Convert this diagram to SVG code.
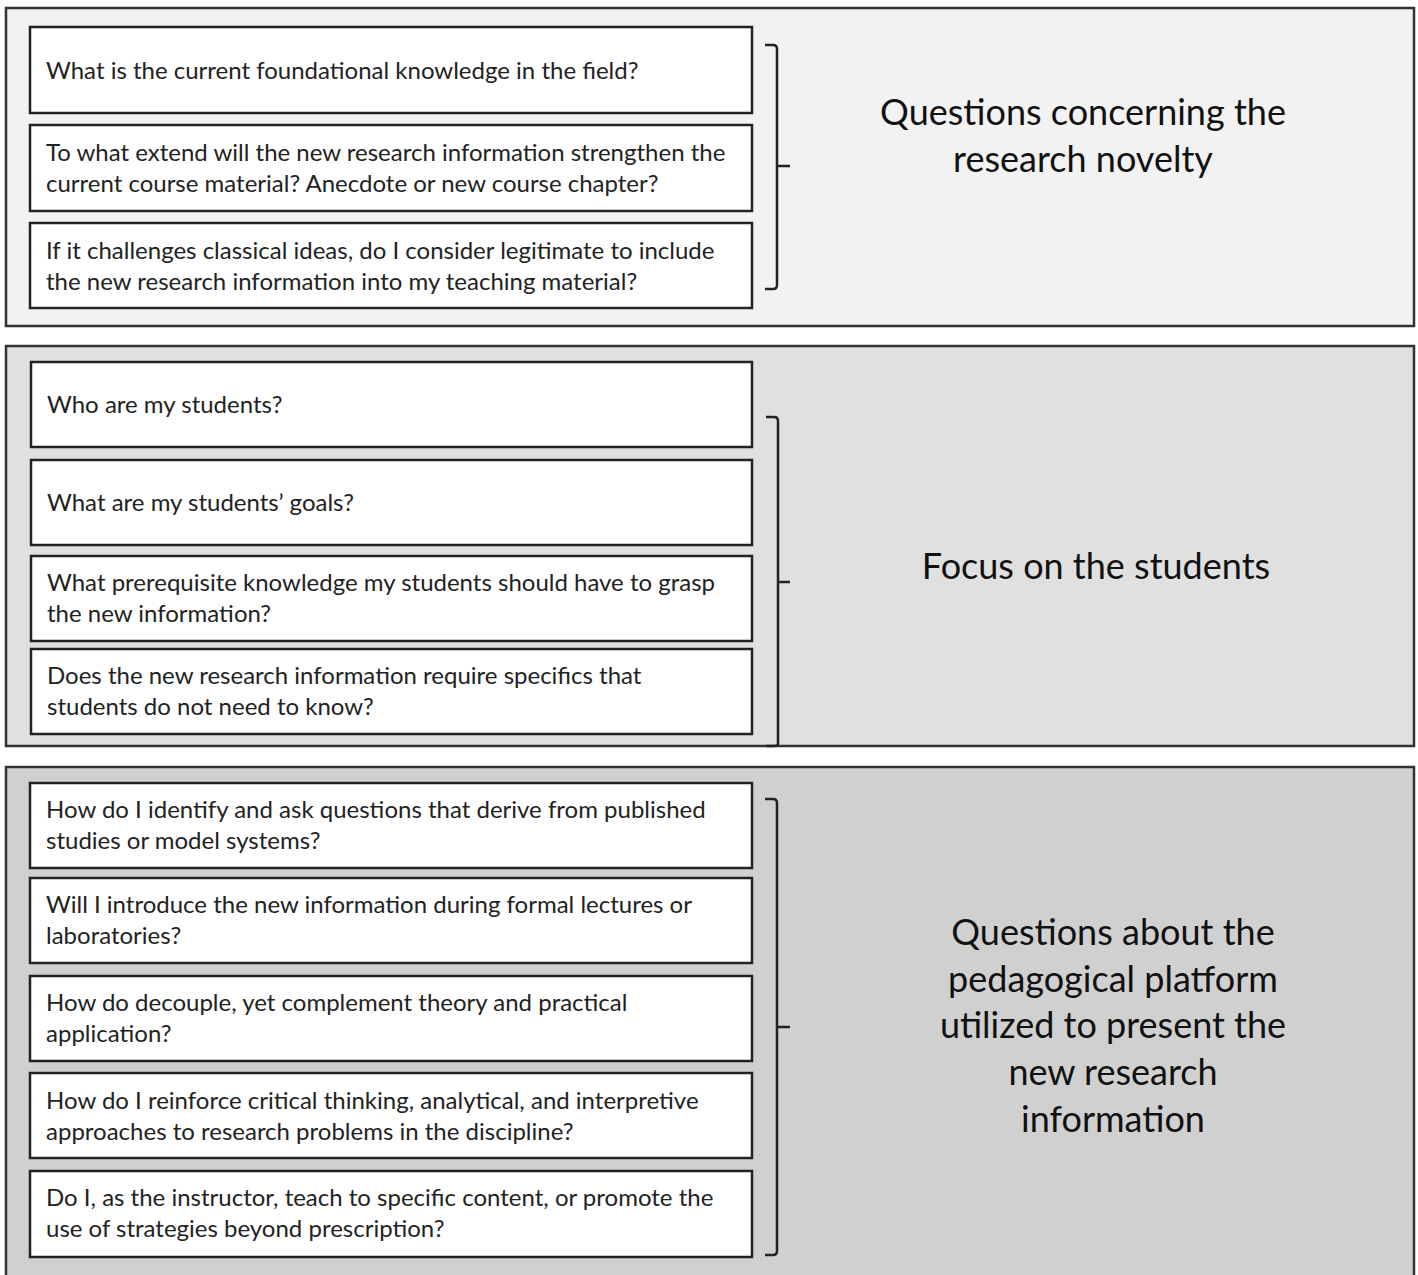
<svg xmlns="http://www.w3.org/2000/svg" width="1418" height="1275" viewBox="0 0 1418 1275">
<style>
.panel{stroke:#333;stroke-width:2.5}
.box{fill:#fff;stroke:#222;stroke-width:2.5}
.t{font-family:Lato,"Open Sans",sans-serif;font-size:24px;fill:#222}
.lbl{font-family:Lato,"Open Sans",sans-serif;font-size:36px;fill:#111;text-anchor:middle}
.brace{fill:none;stroke:#222;stroke-width:2.5}
</style>
<rect width="1418" height="1275" fill="#fff"/>
<g id="panel1">
<rect class="panel" x="6" y="8" width="1408" height="318" fill="#f2f2f2"/>
<text class="lbl" x="1083" y="125">Questions concerning the</text>
<text class="lbl" x="1083" y="172">research novelty</text>
</g>
<g id="panel2">
<rect class="panel" x="6" y="346" width="1408" height="400" fill="#e0e0e0"/>
<text class="lbl" x="1096" y="579">Focus on the students</text>
</g>
<g id="panel3">
<rect class="panel" x="6" y="767" width="1408" height="512" fill="#d0d0d0"/>
<text class="lbl" x="1113" y="945">Questions about the</text>
<text class="lbl" x="1113" y="992">pedagogical platform</text>
<text class="lbl" x="1113" y="1038">utilized to present the</text>
<text class="lbl" x="1113" y="1085">new research</text>
<text class="lbl" x="1113" y="1132">information</text>
</g>
<g id="q1"><rect class="box" x="30" y="27" width="722" height="86"/><text class="t" x="46" y="79">What is the current foundational knowledge in the field?</text></g>
<g id="q2"><rect class="box" x="30" y="125" width="722" height="86"/><text class="t" x="46" y="161">To what extend will the new research information strengthen the</text><text class="t" x="46" y="192">current course material? Anecdote or new course chapter?</text></g>
<g id="q3"><rect class="box" x="30" y="223" width="722" height="85"/><text class="t" x="46" y="259">If it challenges classical ideas, do I consider legitimate to include</text><text class="t" x="46" y="290">the new research information into my teaching material?</text></g>
<g id="q4"><rect class="box" x="31" y="362" width="721" height="85"/><text class="t" x="47" y="413">Who are my students?</text></g>
<g id="q5"><rect class="box" x="31" y="460" width="721" height="85"/><text class="t" x="47" y="511">What are my students’ goals?</text></g>
<g id="q6"><rect class="box" x="31" y="556" width="721" height="85"/><text class="t" x="47" y="591">What prerequisite knowledge my students should have to grasp</text><text class="t" x="47" y="622">the new information?</text></g>
<g id="q7"><rect class="box" x="31" y="649" width="721" height="85"/><text class="t" x="47" y="684">Does the new research information require specifics that</text><text class="t" x="47" y="715">students do not need to know?</text></g>
<g id="q8"><rect class="box" x="30" y="783" width="722" height="85"/><text class="t" x="46" y="818">How do I identify and ask questions that derive from published</text><text class="t" x="46" y="849">studies or model systems?</text></g>
<g id="q9"><rect class="box" x="30" y="878" width="722" height="85"/><text class="t" x="46" y="913">Will I introduce the new information during formal lectures or</text><text class="t" x="46" y="944">laboratories?</text></g>
<g id="q10"><rect class="box" x="30" y="976" width="722" height="85"/><text class="t" x="46" y="1011">How do decouple, yet complement theory and practical</text><text class="t" x="46" y="1042">application?</text></g>
<g id="q11"><rect class="box" x="30" y="1073" width="722" height="85"/><text class="t" x="46" y="1109">How do I reinforce critical thinking, analytical, and interpretive</text><text class="t" x="46" y="1140">approaches to research problems in the discipline?</text></g>
<g id="q12"><rect class="box" x="30" y="1171" width="722" height="86"/><text class="t" x="46" y="1206">Do I, as the instructor, teach to specific content, or promote the</text><text class="t" x="46" y="1237">use of strategies beyond prescription?</text></g>
<g id="connectors">
<path class="brace" d="M765 45 H773 Q777 45 777 49 V285 Q777 289 773 289 H765 M777 166 H790"/>
<path class="brace" d="M766 417 H774 Q778 417 778 421 V744 Q778 746 774 746 H766 M778 582 H790"/>
<path class="brace" d="M765 799 H773 Q777 799 777 803 V1251 Q777 1255 773 1255 H765 M777 1027 H790"/>
</g>
</svg>
